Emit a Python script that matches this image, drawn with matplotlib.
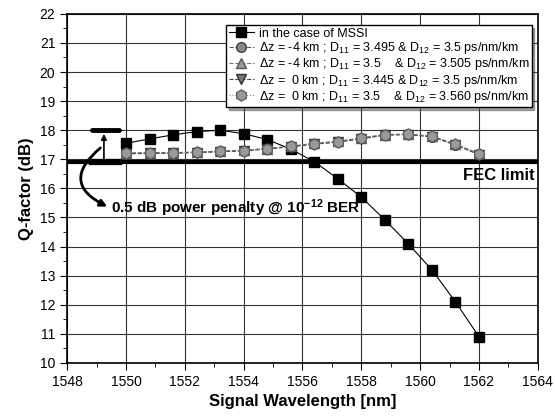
import matplotlib
matplotlib.use("Agg")
import matplotlib.pyplot as plt
from matplotlib.patches import FancyArrowPatch
from matplotlib.ticker import MultipleLocator

plt.rcParams['font.family'] = ['Liberation Sans', 'DejaVu Sans']
plt.rcParams['mathtext.fontset'] = 'custom'
plt.rcParams['mathtext.rm'] = 'Liberation Sans'
plt.rcParams['mathtext.it'] = 'Liberation Sans'
plt.rcParams['mathtext.bf'] = 'Liberation Sans:bold'

# wavelengths (100 GHz grid)
wl = [1550.0, 1550.8, 1551.6, 1552.4, 1553.2, 1554.0, 1554.8, 1555.6,
      1556.4, 1557.2, 1558.0, 1558.8, 1559.6, 1560.4, 1561.2, 1562.0]

q_mssi = [17.55, 17.7, 17.84, 17.95, 18.0, 17.88, 17.68, 17.35,
          16.92, 16.33, 15.7, 14.92, 14.09, 13.2, 12.1, 10.9]
q_a = [17.2, 17.21, 17.22, 17.24, 17.27, 17.3, 17.36, 17.44,
       17.53, 17.6, 17.72, 17.84, 17.86, 17.78, 17.5, 17.18]
q_b = [17.22, 17.23, 17.23, 17.25, 17.28, 17.31, 17.37, 17.45,
       17.55, 17.62, 17.74, 17.85, 17.87, 17.8, 17.52, 17.2]
q_c = [17.19, 17.2, 17.21, 17.23, 17.26, 17.29, 17.35, 17.43,
       17.52, 17.59, 17.7, 17.83, 17.85, 17.77, 17.49, 17.16]
q_d = [17.21, 17.22, 17.22, 17.24, 17.27, 17.3, 17.36, 17.44,
       17.54, 17.61, 17.73, 17.84, 17.86, 17.79, 17.51, 17.19]

labels = [
    "in the case of MSSI",
    r"$\Delta$z = -4 km ; D$_{11}$ = 3.495 & D$_{12}$ = 3.5 ps/nm/km",
    r"$\Delta$z = -4 km ; D$_{11}$ = 3.5    & D$_{12}$ = 3.505 ps/nm/km",
    r"$\Delta$z =  0 km ; D$_{11}$ = 3.445 & D$_{12}$ = 3.5 ps/nm/km",
    r"$\Delta$z =  0 km ; D$_{11}$ = 3.5    & D$_{12}$ = 3.560 ps/nm/km",
]

fec = 16.9

fig = plt.figure(figsize=(5.55, 4.2), dpi=100)
ax = fig.add_axes([0.121, 0.136, 0.848, 0.831])

ax.plot(wl, q_mssi, color='black', lw=0.8, marker='s', ms=7, label=labels[0], zorder=3)
ax.plot(wl, q_a, color='#555555', lw=0.8, ls='--', marker='o', ms=7,
        mfc='#888888', mec='#444444', label=labels[1], zorder=4)
ax.plot(wl, q_b, color='#777777', lw=0.8, ls='--', marker='^', ms=7,
        mfc='#999999', mec='#555555', label=labels[2], zorder=4)
ax.plot(wl, q_c, color='#444444', lw=0.8, ls='--', marker='v', ms=7,
        mfc='#777777', mec='#333333', label=labels[3], zorder=4)
ax.plot(wl, q_d, color='#888888', lw=0.8, ls=':', marker='h', ms=8,
        mfc='#9a9a9a', mec='#606060', label=labels[4], zorder=5)

# FEC limit and penalty marks
ax.axhline(fec, color='black', lw=3, zorder=2)
ax.plot([1548.85, 1549.75], [18.0, 18.0], color='black', lw=3.5, solid_capstyle='round', zorder=2)
ax.plot([1548.85, 1549.75], [fec, fec], color='black', lw=4.5, zorder=2)
ax.annotate('', xy=(1549.25, 17.97), xytext=(1549.25, fec),
            arrowprops=dict(arrowstyle='-|>', color='black', lw=1.2, mutation_scale=8))
ax.add_patch(FancyArrowPatch((1549.2, 17.45), (1549.45, 15.33),
                             connectionstyle='arc3,rad=0.8', arrowstyle='-|>',
                             color='black', lw=2, mutation_scale=10, zorder=6))
ax.text(1549.5, 15.33, r'0.5 dB power penalty @ 10$^{\mathbf{-12}}$ BER', fontsize=11,
        fontweight='bold', va='center', ha='left')
ax.text(1563.9, 16.45, 'FEC limit', fontsize=12, fontweight='bold', va='center', ha='right')

ax.set_xlim(1548, 1564)
ax.set_ylim(10, 22)
ax.xaxis.set_major_locator(MultipleLocator(2))
ax.xaxis.set_minor_locator(MultipleLocator(1))
ax.yaxis.set_major_locator(MultipleLocator(1))
ax.yaxis.set_minor_locator(MultipleLocator(0.5))
ax.tick_params(which='both', direction='out', labelsize=10)
ax.tick_params(which='major', length=5)
ax.tick_params(which='minor', length=3)
ax.grid(True, which='major', color='#333333', lw=0.8)
for s in ax.spines.values():
    s.set_linewidth(1.2)

ax.set_xlabel('Signal Wavelength [nm]', fontsize=12, fontweight='bold')
ax.set_ylabel('Q-factor (dB)', fontsize=12, fontweight='bold')

leg = ax.legend(loc='upper right', fontsize=9, shadow=True, fancybox=False,
                framealpha=1, edgecolor='black', handlelength=2.0, handletextpad=0.4,
                borderpad=0.2, labelspacing=0.02, bbox_to_anchor=(1.0, 0.985))
leg.get_frame().set_linewidth(1)

fig.savefig('out.png', dpi=100)
